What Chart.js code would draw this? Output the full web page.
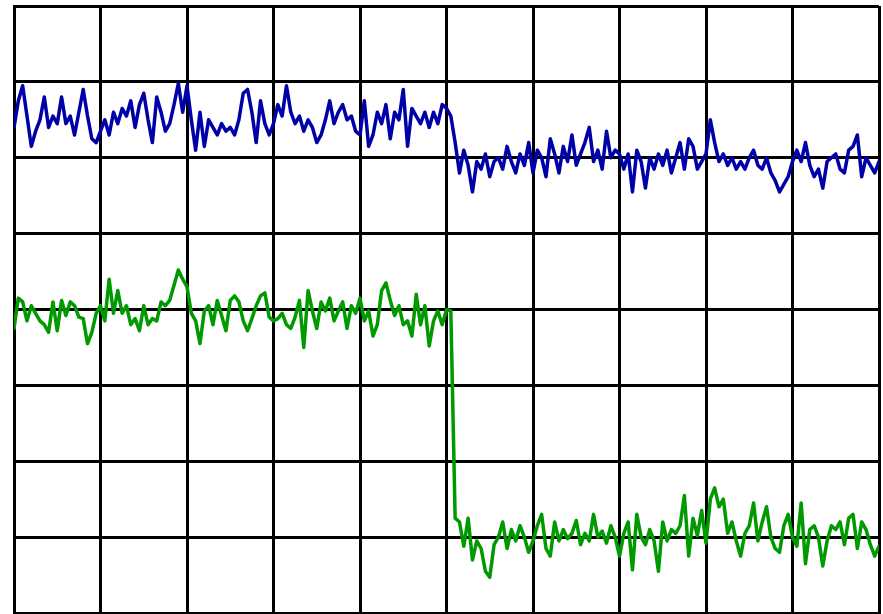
<!DOCTYPE html>
<html lang="en">
<head>
  <meta charset="UTF-8">
  <title>Grid chart</title>
  <script src="https://cdn.jsdelivr.net/npm/chart.js"></script>
  <style>
    html, body { margin: 0; padding: 0; background: #fff; }
    #grafico { display: block; }
  </style>
</head>
<body>
  <div style="width: 883px; height: 614px;">
    <canvas id="grafico"></canvas>
  </div>
  <script>
    // upper trace, one sample per 1/20 of a grid column
    const blue = [
      6.40, 6.75, 6.95, 6.55, 6.15, 6.35, 6.50, 6.80, 6.40, 6.55, 6.45, 6.80, 6.45, 6.55, 6.30, 6.60, 6.90, 6.55, 6.25, 6.20,
      6.35, 6.50, 6.30, 6.60, 6.45, 6.65, 6.55, 6.75, 6.40, 6.70, 6.85, 6.50, 6.20, 6.80, 6.60, 6.35, 6.45, 6.70, 6.98, 6.60,
      6.95, 6.50, 6.10, 6.60, 6.15, 6.50, 6.40, 6.30, 6.45, 6.35, 6.40, 6.30, 6.50, 6.85, 6.90, 6.60, 6.20, 6.75, 6.45, 6.30,
      6.45, 6.70, 6.55, 6.95, 6.60, 6.45, 6.55, 6.35, 6.50, 6.40, 6.20, 6.30, 6.50, 6.75, 6.45, 6.60, 6.70, 6.50, 6.55, 6.35,
      6.30, 6.75, 6.15, 6.30, 6.60, 6.45, 6.70, 6.25, 6.60, 6.50, 6.90, 6.15, 6.65, 6.55, 6.45, 6.60, 6.40, 6.60, 6.45, 6.70,
      6.65, 6.55, 6.20, 5.80, 6.10, 5.90, 5.55, 5.95, 5.85, 6.05, 5.75, 5.95, 6.00, 5.85, 6.15, 5.95, 5.80, 6.05, 5.90, 6.20,
      5.80, 6.10, 6.00, 5.75, 6.25, 6.05, 5.80, 6.15, 5.95, 6.30, 5.90, 6.05, 6.20, 6.40, 5.95, 6.10, 5.85, 6.35, 6.00, 6.10,
      6.05, 5.85, 6.05, 5.55, 6.10, 5.95, 5.60, 6.00, 5.85, 6.05, 5.90, 6.10, 5.80, 6.00, 6.20, 5.85, 6.25, 6.15, 5.85, 5.95,
      6.05, 6.50, 6.20, 5.95, 6.05, 5.90, 6.00, 5.85, 5.95, 5.85, 6.00, 6.10, 5.90, 5.85, 6.00, 5.80, 5.70, 5.55, 5.65, 5.75,
      5.95, 6.10, 5.95, 6.20, 5.90, 5.75, 5.85, 5.60, 5.95, 6.00, 6.05, 5.85, 5.80, 6.10, 6.15, 6.30, 5.75, 6.00, 5.90, 5.80,
      5.95
    ];
    // lower trace, drops after sample 101
    const green = [
      3.75, 4.15, 4.10, 3.85, 4.05, 3.95, 3.85, 3.80, 3.70, 4.10, 3.72, 4.12, 3.92, 4.10, 4.05, 3.90, 3.88, 3.55, 3.70, 3.95,
      4.05, 3.85, 4.40, 3.95, 4.25, 3.95, 4.05, 3.80, 3.88, 3.72, 4.05, 3.80, 3.88, 3.85, 4.10, 4.05, 4.12, 4.32, 4.52, 4.40,
      4.30, 3.95, 3.85, 3.55, 3.98, 4.05, 3.80, 4.12, 3.92, 3.72, 4.12, 4.18, 4.10, 3.85, 3.72, 3.88, 4.05, 4.18, 4.22, 3.90,
      3.85, 3.88, 3.95, 3.80, 3.75, 3.90, 4.12, 3.50, 4.25, 3.98, 3.75, 4.10, 3.98, 4.15, 3.85, 3.98, 4.10, 3.75, 4.05, 3.95,
      4.15, 3.85, 3.98, 3.65, 3.80, 4.25, 4.35, 4.12, 3.92, 4.05, 3.80, 3.85, 3.65, 4.20, 3.80, 4.05, 3.52, 3.85, 3.98, 3.80,
      4.00, 3.98, 1.25, 1.20, 0.88, 1.25, 0.70, 0.95, 0.85, 0.55, 0.47, 0.90, 1.00, 1.20, 0.85, 1.10, 0.95, 1.15, 1.00, 0.80,
      0.95, 1.15, 1.30, 0.85, 0.75, 1.20, 0.95, 1.10, 0.98, 1.05, 1.22, 0.90, 1.05, 0.95, 1.30, 1.00, 1.08, 0.92, 1.15, 1.00,
      0.75, 1.05, 1.20, 0.57, 1.30, 1.00, 0.90, 1.10, 0.95, 0.55, 1.20, 0.95, 1.10, 1.05, 1.15, 1.55, 0.75, 1.25, 1.02, 1.35,
      0.92, 1.50, 1.65, 1.40, 1.50, 1.05, 1.20, 0.95, 0.75, 1.05, 1.15, 1.45, 0.95, 1.20, 1.40, 1.00, 0.85, 0.80, 1.15, 1.30,
      1.00, 0.88, 1.45, 0.65, 1.10, 1.15, 1.00, 0.62, 0.95, 1.15, 1.10, 1.20, 0.90, 1.25, 1.30, 0.85, 1.20, 1.10, 0.90, 0.75,
      0.88
    ];
    const samplesPerDiv = 20;
    const xDivs = 10;
    const yDivs = 8;

    const pontos = arr => arr.map((v, i) => ({ x: i, y: v }));

    const ctx = document.getElementById('grafico');
    new Chart(ctx, {
      type: 'line',
      data: {
        datasets: [
          { data: pontos(blue), borderColor: '#0000a8', borderWidth: 3.5 },
          { data: pontos(green), borderColor: '#009a00', borderWidth: 3.5 }
        ]
      },
      options: {
        responsive: true,
        maintainAspectRatio: false,
        animation: false,
        layout: { padding: { left: 14, top: 6, right: 4, bottom: 1 } },
        elements: { point: { radius: 0 }, line: { tension: 0, borderJoinStyle: 'round', borderCapStyle: 'round' } },
        plugins: { legend: { display: false }, tooltip: { enabled: false } },
        scales: {
          x: {
            type: 'linear',
            min: 0,
            max: samplesPerDiv * xDivs,
            ticks: { display: false, stepSize: samplesPerDiv },
            grid: { color: '#000', lineWidth: 3, drawTicks: false },
            border: { color: '#000', width: 3 },
            afterFit: s => { s.height = 0; }
          },
          y: {
            min: 0,
            max: yDivs,
            ticks: { display: false, stepSize: 1 },
            grid: { color: '#000', lineWidth: 3, drawTicks: false },
            border: { color: '#000', width: 3 },
            afterFit: s => { s.width = 0; }
          }
        }
      }
    });
  </script>
</body>
</html>
